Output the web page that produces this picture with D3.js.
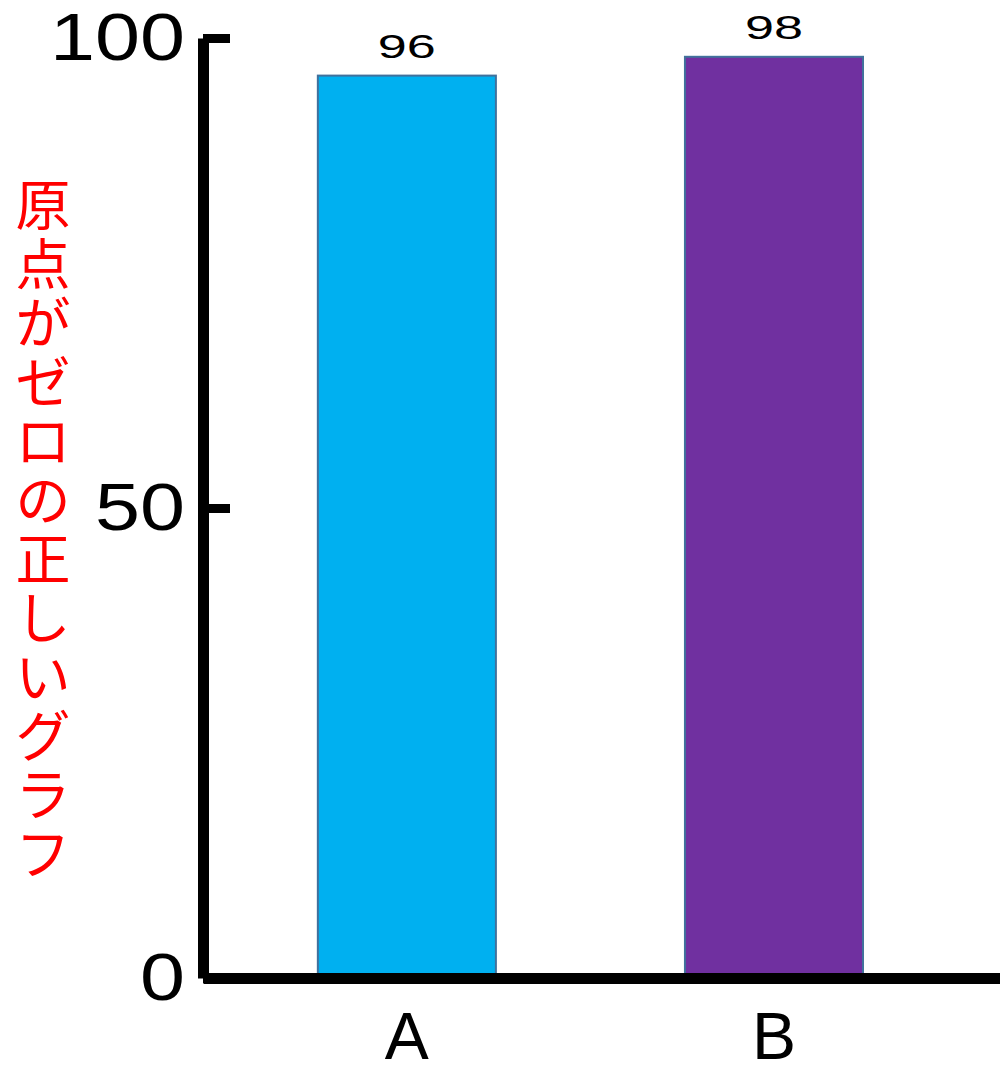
<!DOCTYPE html>
<html>
<head>
<meta charset="utf-8">
<script src="https://cdn.jsdelivr.net/npm/d3@7"></script>
<style>
  body { margin: 0; background: #fff; }
  svg { display: block; }
</style>
</head>
<body>
<svg id="chart" width="1000" height="1069"></svg>
<script>
// chart data
var categories = ['A', 'B'];
var values = [96, 98];
var barColors = ['#00B0F0', '#7030A0'];
var yTicks = [0, 50, 100];
var titleText = '原点がゼロの正しいグラフ';

var svg = d3.select('#chart');

var x = d3.scaleBand()
    .domain(categories)
    .range([203, 1000])
    .paddingInner(0.515)
    .paddingOuter(0.343)
    .align(0.456);

var y = d3.scaleLinear()
    .domain([0, 100])
    .range([978, 38]);

// bars
svg.selectAll('rect.bar')
    .data(values)
    .enter().append('rect')
    .attr('class', 'bar')
    .attr('x', (d, i) => x(categories[i]))
    .attr('y', d => y(d))
    .attr('width', x.bandwidth())
    .attr('height', d => y(0) - y(d))
    .attr('fill', (d, i) => barColors[i])
    .attr('stroke', '#41719C')
    .attr('stroke-width', 2);

// value labels above bars (wide digits like the original)
svg.selectAll('text.val')
    .data(values)
    .enter().append('text')
    .attr('class', 'val')
    .attr('x', (d, i) => x(categories[i]) + x.bandwidth() / 2)
    .attr('y', d => y(d) - 18)
    .attr('text-anchor', 'middle')
    .attr('font-family', 'Liberation Sans, Arial, sans-serif')
    .attr('font-size', 33)
    .attr('textLength', d => String(d).length * 29)
    .attr('lengthAdjust', 'spacingAndGlyphs')
    .attr('fill', '#000')
    .text(d => d);

// y axis, ticks pointing into the plot
var gy = svg.append('g')
    .attr('transform', 'translate(203,0)')
    .call(d3.axisLeft(y).tickValues(yTicks).tickSizeInner(-27).tickSizeOuter(0).tickPadding(18));
gy.select('.domain').attr('stroke', '#000').attr('stroke-width', 11);
gy.selectAll('.tick line').attr('stroke', '#000').attr('stroke-width', 9);
gy.selectAll('.tick text')
    .attr('font-family', 'Liberation Sans, Arial, sans-serif')
    .attr('font-size', 66)
    .attr('textLength', d => String(d).length * 45)
    .attr('lengthAdjust', 'spacingAndGlyphs')
    .attr('fill', '#000');

// x axis
var gx = svg.append('g')
    .attr('transform', 'translate(0,' + y(0) + ')')
    .call(d3.axisBottom(x).tickSize(0).tickPadding(34));
gx.select('.domain').attr('stroke', '#000').attr('stroke-width', 11);
gx.selectAll('.tick text')
    .attr('font-family', 'Liberation Sans, Arial, sans-serif')
    .attr('font-size', 66)
    .attr('fill', '#000');

// vertical red title, one character per row
svg.append('g').selectAll('text')
    .data(Array.from(titleText))
    .enter().append('text')
    .attr('x', 43)
    .attr('y', (d, i) => 201 + i * 59)
    .attr('text-anchor', 'middle')
    .attr('dominant-baseline', 'central')
    .attr('font-family', 'Noto Sans CJK JP, sans-serif')
    .attr('font-size', 55)
    .attr('fill', '#FF0000')
    .text(d => d);
</script>
</body>
</html>
